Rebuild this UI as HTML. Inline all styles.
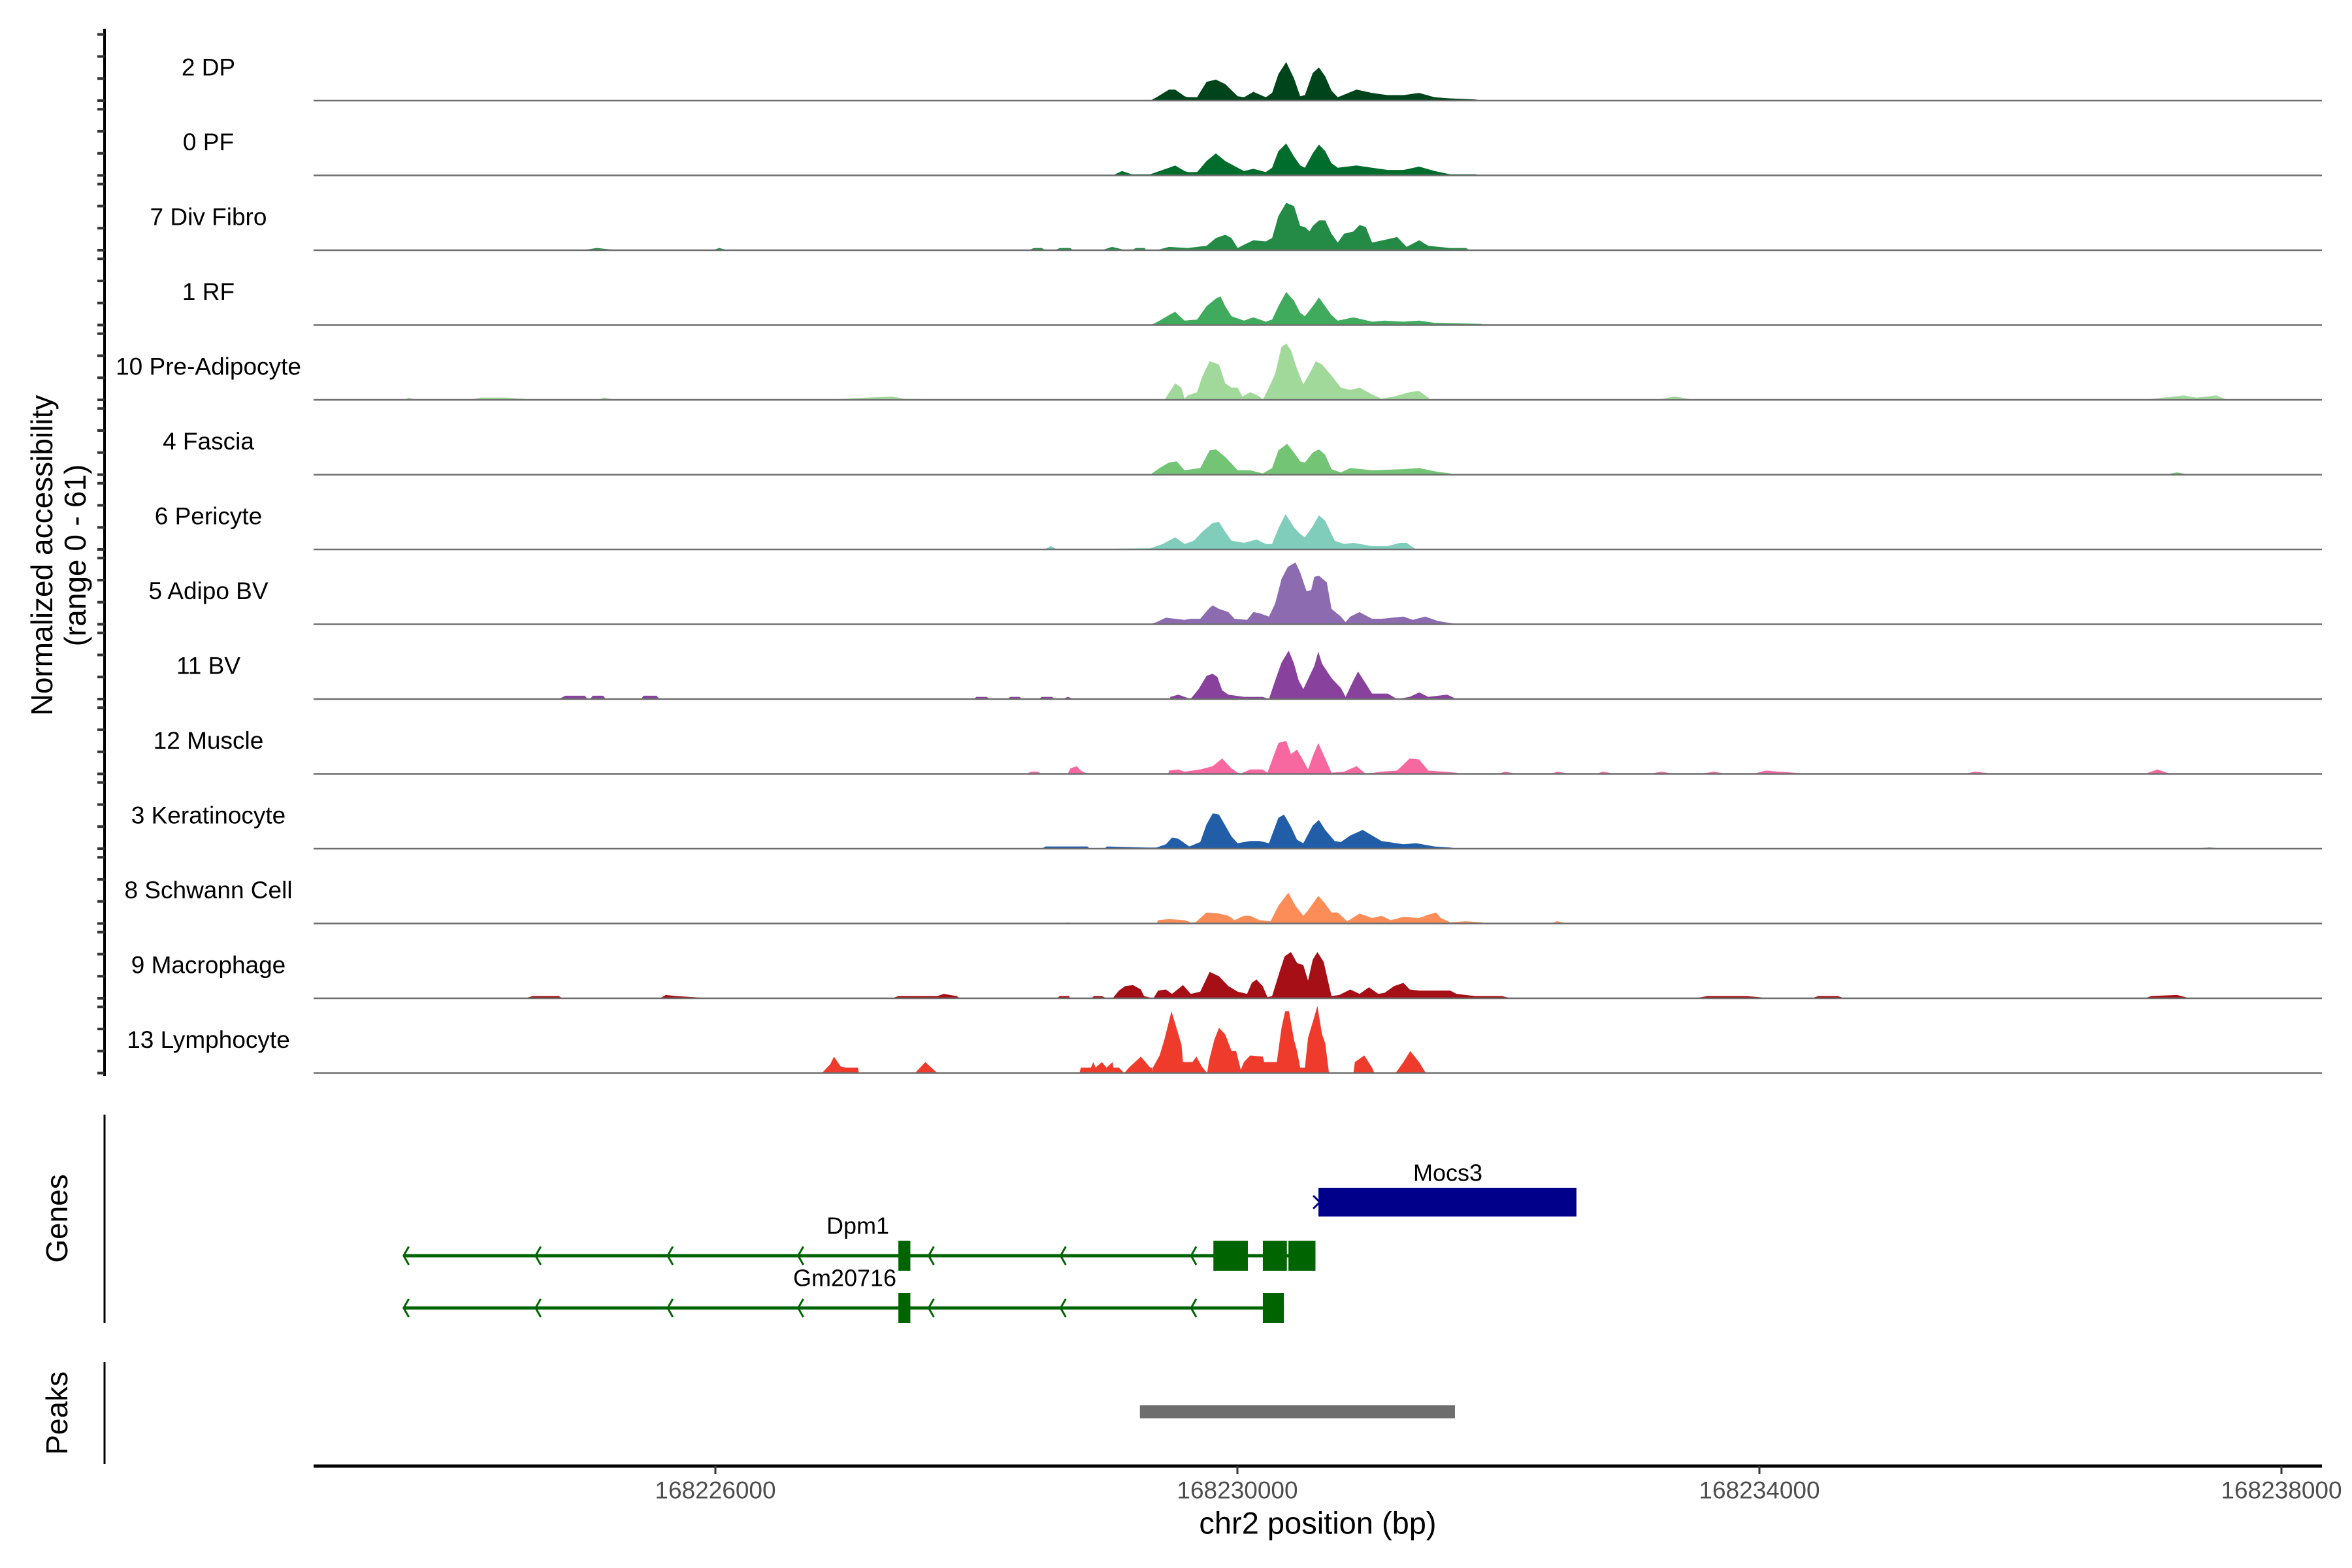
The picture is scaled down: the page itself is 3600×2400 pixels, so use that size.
<!DOCTYPE html>
<html><head><meta charset="utf-8"><style>
html,body{margin:0;padding:0;background:#fff;}
svg{display:block;font-family:"Liberation Sans",Arial,sans-serif;}
</style></head><body>
<svg id="chart" width="3600" height="2400" viewBox="0 0 3600 2400" xmlns="http://www.w3.org/2000/svg">
<g id="tracks"></g>
<g id="yaxis"></g>
<text transform="translate(64,850) rotate(-90)" text-anchor="middle" dominant-baseline="central" font-size="46">Normalized accessibility</text>
<text transform="translate(115,850) rotate(-90)" text-anchor="middle" dominant-baseline="central" font-size="46">(range 0 - 61)</text>
<line x1="160" y1="1706" x2="160" y2="2025" stroke="#000" stroke-width="3"/>
<text transform="translate(87,1865) rotate(-90)" text-anchor="middle" dominant-baseline="central" font-size="46">Genes</text>
<line x1="160" y1="2085" x2="160" y2="2241" stroke="#000" stroke-width="3"/>
<text transform="translate(87,2163) rotate(-90)" text-anchor="middle" dominant-baseline="central" font-size="46">Peaks</text>
<g id="genes"></g>
<g id="peaks"></g>
<g id="xaxis"></g>
<text x="2017" y="2331" text-anchor="middle" dominant-baseline="central" font-size="47">chr2 position (bp)</text>
</svg>
<script>
const regionStart = 168220000;
const yMax = 61;
const xTicks = [168226000, 168230000, 168234000, 168238000];
const trackNames = ["2 DP","0 PF","7 Div Fibro","1 RF","10 Pre-Adipocyte","4 Fascia","6 Pericyte","5 Adipo BV","11 BV","12 Muscle","3 Keratinocyte","8 Schwann Cell","9 Macrophage","13 Lymphocyte"];
const trackColors = ["#00441b","#006d2c","#238b45","#41ab5d","#a1d99b","#74c476","#80cdbb","#8c6bb1","#88419d","#f768a1","#225ea8","#fc8d59","#a50f15","#ef3b2c"];

const dp_pos = [9332,9380,9476,9523,9595,9619,9691,9763,9835,9907,10002,10050,10122,10218,10266,10314,10374,10434,10481,10517,10577,10625,10673,10721,10769,10913,11032,11152,11272,11392,11511,11631,11823,11871];
const dp_val = [0,3,10,10,4,3,3,17,19,15,4,3,8,3,7,24,35,20,4,5,25,30,22,9,3,10,7,5,5,7,3,2,1,0];
const pf_pos = [9044,9116,9190,9332,9380,9476,9523,9595,9619,9691,9763,9835,9907,10002,10050,10122,10218,10266,10314,10374,10434,10481,10517,10577,10625,10673,10721,10769,10913,11032,11152,11272,11392,11511,11631,11823,11871];
const pf_val = [0,4,1,1,3,7,9,4,3,3,13,20,13,7,4,6,3,7,22,29,17,9,7,20,28,22,11,7,9,7,5,5,8,4,1,1,0];
const div_pos = [4977,5092,5253,5977,6030,6092,8400,8440,8500,8530,8600,8640,8720,8740,8960,9040,9110,9130,9195,9220,9290,9300,9380,9476,9619,9691,9763,9835,9907,9955,10002,10050,10122,10218,10266,10314,10374,10434,10481,10517,10553,10577,10625,10673,10721,10769,10817,10889,10936,10984,11032,11152,11224,11296,11392,11463,11631,11751,11780];
const div_val = [0,2,0,0,2,0,0,2,2,0,0,2,2,0,0,3,1,0,0,2,2,0,0,3,2,3,4,11,14,11,2,5,9,8,11,31,43,40,22,21,17,22,27,27,15,7,15,17,23,21,7,10,12,3,9,4,2,2,0];
const rf_pos = [9332,9356,9404,9476,9523,9595,9691,9763,9835,9871,9907,9955,10050,10122,10218,10266,10314,10374,10434,10481,10517,10577,10625,10673,10721,10769,10889,11032,11128,11272,11392,11511,11871,11900];
const rf_val = [0,1,4,9,12,4,5,17,24,26,17,8,4,7,3,5,17,30,22,11,8,17,25,17,9,4,7,3,4,3,4,2,1,0];
const pre_pos = [3621,3650,3713,4103,4200,4400,4655,5092,5150,5230,6782,7000,7350,7450,7874,9440,9452,9523,9571,9595,9619,9691,9727,9787,9859,9907,9955,10002,10038,10098,10170,10194,10242,10290,10338,10374,10410,10457,10505,10553,10601,10649,10721,10793,10865,10936,11032,11104,11200,11320,11392,11463,11475,13218,13350,13506,16931,17100,17250,17350,17500,17586];
const pre_val = [0,2,0,0,2,2,0,0,2,0,0,1,3,1,0,0,2,15,11,1,4,7,20,35,32,15,11,11,3,7,3,0,11,24,48,51,45,28,14,24,35,32,22,11,9,11,5,1,3,7,8,2,0,0,3,0,0,2,4,2,4,0];
const fas_pos = [9332,9404,9476,9535,9595,9715,9787,9835,9907,9955,10002,10098,10194,10266,10314,10381,10434,10481,10517,10577,10625,10673,10721,10793,10865,11032,11272,11392,11511,11631,11700,17100,17200,17300];
const fas_val = [0,6,11,12,4,6,22,23,16,10,4,4,1,6,22,28,20,12,11,20,23,18,5,2,6,4,5,6,3,1,0,0,2,0];
const per_pos = [8520,8570,8620,9332,9428,9523,9595,9667,9739,9811,9859,9907,9955,10050,10146,10218,10266,10314,10369,10434,10481,10517,10577,10625,10673,10745,10817,10889,11032,11152,11248,11296,11368];
const per_val = [0,3,0,1,5,11,5,8,17,24,25,16,8,6,9,5,5,19,32,20,14,11,21,31,26,8,5,6,3,3,6,6,0];
const adi_pos = [9332,9380,9452,9523,9595,9643,9715,9787,9811,9859,9931,9978,10074,10122,10170,10242,10290,10338,10386,10445,10481,10529,10565,10589,10625,10685,10721,10793,10829,10865,10936,11032,11104,11272,11344,11439,11535,11631,11700];
const adi_val = [0,2,6,5,4,5,5,15,17,14,11,5,4,11,10,7,19,41,52,56,47,30,31,43,44,38,14,7,2,7,11,5,5,7,4,7,3,1,0];
const bv_pos = [4800,4850,5000,5020,5040,5060,5140,5160,5430,5450,5550,5570,7980,8000,8080,8100,8240,8260,8330,8350,8480,8500,8580,8600,8660,8700,8750,9480,9487,9547,9619,9640,9703,9763,9811,9847,9883,9931,10050,10194,10242,10290,10338,10393,10434,10469,10505,10553,10589,10620,10649,10721,10793,10829,10877,10924,10984,11032,11152,11224,11320,11392,11463,11607,11679];
const bv_val = [0,3,3,0,0,3,3,0,0,3,3,0,0,2,2,0,0,2,2,0,0,2,2,0,0,2,0,0,2,4,1,0,9,21,23,20,8,4,2,2,0,17,33,44,32,17,9,21,30,43,32,19,10,2,14,25,14,5,5,0,2,6,2,4,0];
const mus_pos = [8380,8420,8470,8500,8700,8720,8769,8800,8850,9470,9476,9547,9595,9715,9811,9883,9955,10002,10020,10098,10194,10230,10314,10374,10410,10457,10505,10541,10577,10620,10673,10721,10817,10913,10984,11104,11224,11320,11392,11463,11583,11679,11700,12000,12050,12150,12400,12450,12550,12750,12800,12900,13150,13250,13350,13550,13650,13750,13950,14050,14150,14400,15575,15650,15805,16954,17050,17149];
const mus_val = [0,2,2,0,0,5,7,3,0,0,3,4,2,4,7,14,5,1,0,4,4,1,28,30,18,22,12,4,16,28,14,1,2,7,0,2,3,14,13,3,2,1,0,0,2,0,0,2,0,0,2,0,0,2,0,0,2,0,0,3,2,0,0,2,0,0,4,0];
const ker_pos = [8500,8530,8850,8870,8980,9000,9300,9380,9452,9499,9547,9595,9631,9715,9763,9811,9859,9907,9955,10002,10098,10170,10242,10314,10357,10410,10457,10505,10577,10625,10673,10745,10793,10865,10960,11032,11104,11272,11368,11511,11631,11700,17300,17450,17586];
const ker_val = [0,2,2,0,0,2,1,1,4,10,9,5,2,6,22,32,31,21,11,5,7,7,5,28,31,20,8,5,21,26,17,7,6,12,17,12,7,4,5,2,1,0,0,1,0];
const sch_pos = [8650,8700,8750,9380,9392,9476,9595,9643,9679,9763,9859,9931,9978,10050,10098,10170,10254,10314,10390,10445,10505,10541,10620,10673,10721,10769,10841,10936,11032,11104,11176,11272,11392,11463,11523,11559,11631,11751,11871,11900,12400,12450,12530];
const sch_val = [0,1,0,0,3,4,3,1,1,10,9,7,3,7,7,3,2,16,28,16,7,12,25,18,10,10,2,9,5,7,3,6,5,8,10,5,1,2,1,0,0,2,0];
const mac_pos = [4540,4600,4800,4828,5575,5620,5700,5977,7356,7400,7700,7750,7850,7874,8621,8637,8709,8720,8880,8901,8961,8997,9044,9092,9140,9200,9260,9284,9356,9392,9452,9499,9583,9643,9715,9787,9859,9931,10002,10074,10110,10146,10194,10230,10266,10326,10362,10410,10457,10505,10541,10577,10613,10661,10721,10781,10865,10936,11008,11080,11128,11200,11272,11320,11392,11511,11631,11679,11823,12026,12100,13506,13600,13900,14000,14050,14400,14450,14600,14655,16954,17000,17200,17299];
const mac_val = [0,2,2,0,0,3,2,0,0,2,2,4,2,0,0,2,2,0,0,2,2,0,0,7,11,12,8,2,0,7,8,4,12,4,6,24,20,11,6,4,14,17,11,1,2,25,38,42,32,30,16,35,42,33,2,3,8,4,10,4,5,11,14,8,7,7,7,4,2,2,0,0,2,2,1,0,0,2,2,0,0,2,3,0];
const lym_pos = [6816,6880,6908,6960,7000,7092,7100,7529,7609,7701,8790,8800,8877,8896,8913,8961,8997,9044,9050,9092,9133,9169,9260,9332,9349,9350,9352,9404,9440,9495,9523,9571,9583,9655,9686,9727,9768,9782,9823,9859,9907,9955,9990,10026,10050,10098,10194,10206,10302,10338,10366,10395,10434,10457,10481,10517,10541,10589,10613,10649,10673,10702,10889,10900,10972,11032,11049,11212,11272,11324,11392,11444];
const lym_val = [0,8,15,6,5,5,0,0,10,0,0,5,5,10,5,10,5,10,5,5,0,5,15,5,5,0,5,16,30,56,45,26,10,10,15,6,0,11,30,41,35,20,20,3,10,16,15,10,10,41,56,56,30,20,5,5,32,51,61,35,27,0,0,10,16,5,0,0,10,20,10,0];

const trackPos = [dp_pos,pf_pos,div_pos,rf_pos,pre_pos,fas_pos,per_pos,adi_pos,bv_pos,mus_pos,ker_pos,sch_pos,mac_pos,lym_pos];
const trackVal = [dp_val,pf_val,div_val,rf_val,pre_val,fas_val,per_val,adi_val,bv_val,mus_val,ker_val,sch_val,mac_val,lym_val];

const geneNames = ["Mocs3","Dpm1","Gm20716"];
const dpm1Exons = [[7402,7494],[9816,10080],[10195,10379],[10391,10598]];
const gmExons = [[7402,7494],[10195,10356]];
const mocs3Range = [10621,12598];
const geneLineStart = 3621;
const chevronPos = [3621,4632,5644,6644,7644,8655,9655];
const peakRange = [9253,11667];

const NS = "http://www.w3.org/2000/svg";
function xs(bp){ return 1095 + (bp + regionStart - 168226000) * 0.19975; }
function xsAbs(bp){ return 1095 + (bp - 168226000) * 0.19975; }
function base(i){ return 154 + i * 114.5; }
function ys(i, v){ return base(i) - v / yMax * 103; }
function mk(tag, attrs, parent){ const e=document.createElementNS(NS,tag); for(const k in attrs) e.setAttribute(k,attrs[k]); parent.appendChild(e); return e; }

const gT = document.getElementById("tracks");
for(let i=0;i<trackNames.length;i++){
  const pos = trackPos[i], val = trackVal[i];
  let d = "M" + xs(pos[0]).toFixed(1) + "," + base(i);
  for(let j=0;j<pos.length;j++) d += "L" + xs(pos[j]).toFixed(1) + "," + ys(i,val[j]).toFixed(1);
  d += "L" + xs(pos[pos.length-1]).toFixed(1) + "," + base(i) + "Z";
  const p = mk("path",{d:d, fill:trackColors[i]}, gT);
  
  
  const bl = mk("line",{x1:480,x2:3554,y1:base(i),y2:base(i),stroke:"#6e6e6e","stroke-width":2.5}, gT);
  
  
  const t = mk("text",{x:319,y:base(i)-51,"text-anchor":"middle","dominant-baseline":"central","font-size":37}, gT);
  t.textContent = trackNames[i];
  
  
}

const gY = document.getElementById("yaxis");
const yl = mk("line",{x1:160,x2:160,y1:44,y2:1647,stroke:"#000","stroke-width":4}, gY);


const tickVals = [0,20,40,60];
for(let i=0;i<trackNames.length;i++){
  for(const v of tickVals){
    const tk = mk("line",{x1:149,x2:160,y1:ys(i,v),y2:ys(i,v),stroke:"#333","stroke-width":4}, gY);
    
    
  }
}

const gG = document.getElementById("genes");
const green = "#006400";
const mb = mk("rect",{x:xs(mocs3Range[0]),y:1818,width:xs(mocs3Range[1])-xs(mocs3Range[0]),height:44,fill:"#00008b"}, gG);


const mc = mk("path",{d:"M"+(xs(mocs3Range[0])-8)+",1830 L"+(xs(mocs3Range[0])+2)+",1840 L"+(xs(mocs3Range[0])-8)+",1850",stroke:"#00008b","stroke-width":3,fill:"none"}, gG);


function geneRow(exons, y, name){
  const end = exons[exons.length-1][1];
  const ln = mk("line",{x1:xs(geneLineStart),x2:xs(end),y1:y,y2:y,stroke:green,"stroke-width":5}, gG);
  
  
  for(const c of chevronPos){
    const cx = xs(c);
    const ch = mk("path",{d:"M"+(cx+6)+","+(y-14)+" L"+(cx-2)+","+y+" L"+(cx+6)+","+(y+14),stroke:green,"stroke-width":3,fill:"none"}, gG);
    
    
  }
  for(const e of exons){
    const r = mk("rect",{x:xs(e[0]),y:y-23,width:xs(e[1])-xs(e[0]),height:46,fill:green}, gG);
    
    
  }
}
geneRow(dpm1Exons, 1922, "dpm1");
geneRow(gmExons, 2002, "gm20716");
const labels = [[geneNames[0], 2216, 1795],[geneNames[1],1313,1876],[geneNames[2],1293,1956]];
for(const l of labels){
  const t = mk("text",{x:l[1],y:l[2],"text-anchor":"middle","dominant-baseline":"central","font-size":36}, gG);
  t.textContent = l[0];
  
  
}

const gP = document.getElementById("peaks");
const pk = mk("rect",{x:xs(peakRange[0]),y:2151,width:xs(peakRange[1])-xs(peakRange[0]),height:20,fill:"#6e6e6e"}, gP);



const gX = document.getElementById("xaxis");
const xl = mk("line",{x1:480,x2:3554,y1:2244,y2:2244,stroke:"#000","stroke-width":5}, gX);


for(const t of xTicks){
  const x = xsAbs(t);
  const tk = mk("line",{x1:x,x2:x,y1:2244,y2:2256,stroke:"#333","stroke-width":3}, gX);
  
  
  const lb = mk("text",{x:x,y:2281,"text-anchor":"middle","dominant-baseline":"central","font-size":37,fill:"#4d4d4d"}, gX);
  lb.textContent = String(t);
  
  
}
</script>
</body></html>
